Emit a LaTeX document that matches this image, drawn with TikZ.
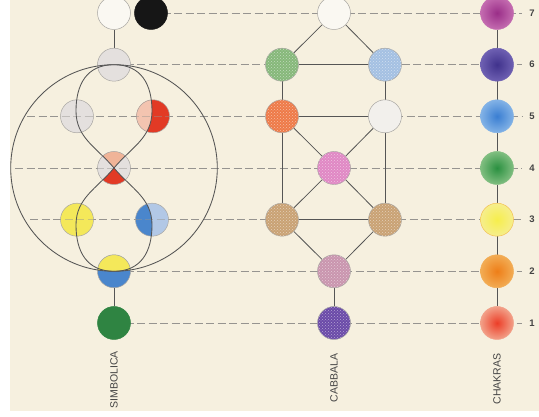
\documentclass[tikz,border=0pt]{standalone}
\usepackage{fontspec}
\setmainfont{Liberation Sans}
\usetikzlibrary{patterns}
\definecolor{cream}{HTML}{F6F0DF}
\definecolor{edgec}{HTML}{555555}
\definecolor{dashc}{HTML}{969490}
\definecolor{outc}{HTML}{A8A6A2}
\definecolor{txtc}{HTML}{444444}
% simbolica
\definecolor{swhite}{HTML}{FAF8F2}
\definecolor{sblack}{HTML}{161616}
\definecolor{sgrey}{HTML}{E4E0DE}
\definecolor{spale}{HTML}{F3C4B0}
\definecolor{sred}{HTML}{E23A25}
\definecolor{speach}{HTML}{F0B498}
\definecolor{syellow}{HTML}{F4E85A}
\definecolor{sblue}{HTML}{4A86CC}
\definecolor{slblue}{HTML}{B2C8E6}
\definecolor{sgreen}{HTML}{2F8442}
% cabbala
\definecolor{kwhite}{HTML}{FAF8F2}
\definecolor{kgreen}{HTML}{86B87A}
\definecolor{klblue}{HTML}{A4C0E2}
\definecolor{korange}{HTML}{EE7A48}
\definecolor{koff}{HTML}{F2F0EC}
\definecolor{kpink}{HTML}{E088C4}
\definecolor{ktan}{HTML}{C9A274}
\definecolor{kmauve}{HTML}{C995AE}
\definecolor{kpurple}{HTML}{6A4AA8}
% chakras
\definecolor{c7i}{HTML}{9A2E88}\definecolor{c7o}{HTML}{C46CB0}
\definecolor{c6i}{HTML}{40328C}\definecolor{c6o}{HTML}{6E60B2}
\definecolor{c5i}{HTML}{3A7ED2}\definecolor{c5o}{HTML}{82B2E6}
\definecolor{c4i}{HTML}{2A9040}\definecolor{c4o}{HTML}{80BE80}
\definecolor{c3i}{HTML}{F6EE4C}\definecolor{c3o}{HTML}{F6EE8C}
\definecolor{c2i}{HTML}{EE7E18}\definecolor{c2o}{HTML}{F2AC54}
\definecolor{c1i}{HTML}{EC3E28}\definecolor{c1o}{HTML}{F2A088}
\pgfdeclarelayer{bg}
\pgfdeclarelayer{lines}
\pgfdeclarelayer{top}
\pgfsetlayers{bg,lines,main,top}
\tikzset{
  ball/.style={circle, minimum size=33pt, inner sep=0pt, draw=outc, line width=0.5pt},
  sball/.style={ball, fill=#1},
  kball/.style={ball, fill=#1, postaction={pattern=crosshatch dots, pattern color=white!50!#1}},
  cball/.style 2 args={ball, draw=#2, shading=radial, inner color=#1, outer color=#2},
  edgeline/.style={draw=edgec, line width=0.8pt},
  dashline/.style={draw=dashc, line width=0.8pt, dash pattern=on 8pt off 3.5pt},
  curveline/.style={draw=edgec, line width=0.85pt},
  collabel/.style={rotate=90, font=\fontsize{10.5}{12}\selectfont, text=txtc, inner sep=0pt},
  numlabel/.style={font=\fontsize{9.5}{10}\selectfont\bfseries, text=txtc, inner sep=0pt}
}
\def\upperloop{(114,249) to[out=50,in=-90] (152,306) to[out=90,in=0,looseness=1.15] (114,352.3) to[out=180,in=90,looseness=1.15] (76,306) to[out=-90,in=130] (114,249)}
\def\lowerloop{(114,249) to[out=-50,in=90] (152,192) to[out=-90,in=0,looseness=1.15] (114,145.7) to[out=180,in=-90,looseness=1.15] (76,192) to[out=90,in=-130] (114,249)}
\begin{document}
\begin{tikzpicture}[x=1pt,y=1pt]
\useasboundingbox (0,0) rectangle (539,417);
\begin{pgfonlayer}{bg}
\fill[white] (0,0) rectangle (539,417);
\fill[cream] (10,6) rectangle (539,417);
\end{pgfonlayer}

% ---- SIMBOLICA ----
\node[sball=swhite] (s7a) at (114,404) {};
\node[sball=sblack, draw=sblack] (s7b) at (151,404) {};
\node[sball=sgrey] (s6) at (114,352.3) {};
\node[sball=sgrey] (s5L) at (77,300.7) {};
\node[circle, minimum size=33pt, inner sep=0pt, fill=sred] (s5R) at (153,300.7) {};
\node[circle, minimum size=33pt, inner sep=0pt, fill=sgrey] (s4) at (114,249) {};
\node[sball=syellow] (s3L) at (77,197.3) {};
\node[circle, minimum size=33pt, inner sep=0pt, fill=slblue] (s3R) at (152,197.3) {};
\node[circle, minimum size=33pt, inner sep=0pt, fill=sblue] (s2) at (114,145.7) {};
\node[sball=sgreen, draw=sgreen] (s1) at (114,94) {};
\begin{scope}
  \clip (s5R.center) circle (16.5);
  \fill[spale] \upperloop -- cycle;
\end{scope}
\begin{scope}
  \clip (s4.center) circle (16.5);
  \fill[speach] \upperloop -- cycle;
  \fill[sred] \lowerloop -- cycle;
\end{scope}
\begin{scope}
  \clip (s3R.center) circle (16.5);
  \fill[sblue] \lowerloop -- cycle;
\end{scope}
\begin{scope}
  \clip (s2.center) circle (16.5);
  \fill[syellow] (114,249) circle (103.3);
\end{scope}
\foreach \n in {s5R,s4,s3R,s2}{\draw[outc, line width=0.5pt] (\n.center) circle (16.5);}

% ---- CABBALA ----
\node[ball, fill=kwhite] (k7) at (334,404) {};
\node[kball=kgreen] (k6L) at (282,352.3) {};
\node[kball=klblue] (k6R) at (385,352.3) {};
\node[kball=korange] (k5L) at (282,300.7) {};
\node[ball, fill=koff] (k5R) at (385,300.7) {};
\node[kball=kpink] (k4) at (334,249) {};
\node[kball=ktan] (k3L) at (282,197.3) {};
\node[kball=ktan] (k3R) at (385,197.3) {};
\node[kball=kmauve] (k2) at (334,145.7) {};
\node[kball=kpurple] (k1) at (334,94) {};

% ---- CHAKRAS ----
\node[cball={c7i}{c7o}] (c7) at (497,404) {};
\node[cball={c6i}{c6o}] (c6) at (497,352.3) {};
\node[cball={c5i}{c5o}] (c5) at (497,300.7) {};
\node[cball={c4i}{c4o}] (c4) at (497,249) {};
\node[cball={c3i}{c3o}, draw=c2o!70!c3i] (c3) at (497,197.3) {};
\node[cball={c2i}{c2o}] (c2) at (497,145.7) {};
\node[cball={c1i}{c1o}] (c1) at (497,94) {};

% number labels
\foreach \k/\y in {7/404,6/352.3,5/300.7,4/249,3/197.3,2/145.7,1/94}{
  \node[numlabel] (n\k) at (532,\y) {\k};
  \coordinate (t\k) at (522,\y);
}
% column labels
\node[collabel] (lsim) at (114,37) {SIMBOLICA};
\node[collabel] (lcab) at (334,39) {CABBALA};
\node[collabel] (lcha) at (497,38) {CHAKRAS};

% free dash starts
\coordinate (d5) at (27,300.7);
\coordinate (d4) at (15,249);
\coordinate (d3) at (30,197.3);

\begin{pgfonlayer}{lines}
  \draw[dashline] (s7b.center) -- (t7);
  \draw[dashline] (s6.center) -- (t6);
  \draw[dashline] (d5) -- (t5);
  \draw[dashline] (d4) -- (t4);
  \draw[dashline] (d3) -- (t3);
  \draw[dashline] (s2.center) -- (t2);
  \draw[dashline] (s1.center) -- (t1);
  % simbolica verticals
  \draw[edgeline] (s7a) -- (s6);
  \draw[edgeline] (s2) -- (s1);
  % cabbala edges
  \draw[edgeline] (k7) -- (k6L);
  \draw[edgeline] (k7) -- (k6R);
  \draw[edgeline] (k6L) -- (k6R);
  \draw[edgeline] (k6L) -- (k5L);
  \draw[edgeline] (k6R) -- (k5R);
  \draw[edgeline] (k5L) -- (k5R);
  \draw[edgeline] (k5L) -- (k4);
  \draw[edgeline] (k5R) -- (k4);
  \draw[edgeline] (k5L) -- (k3L);
  \draw[edgeline] (k5R) -- (k3R);
  \draw[edgeline] (k4) -- (k3L);
  \draw[edgeline] (k4) -- (k3R);
  \draw[edgeline] (k3L) -- (k3R);
  \draw[edgeline] (k3L) -- (k2);
  \draw[edgeline] (k3R) -- (k2);
  \draw[edgeline] (k2) -- (k1);
  % chakra spine
  \draw[edgeline] (c7) -- (c6) -- (c5) -- (c4) -- (c3) -- (c2) -- (c1);
\end{pgfonlayer}

\begin{pgfonlayer}{top}
  % faint dashes over the simbolica balls
  \draw[dashline, opacity=0.45] (d5) -- (s5R.east);
  \draw[dashline, opacity=0.45] (d4) -- (s4.east);
  \draw[dashline, opacity=0.45] (d3) -- (s3R.east);
  % big circle and figure eight
  \draw[curveline] (s4.center) circle (103.3);
  \draw[curveline] \upperloop;
  \draw[curveline] \lowerloop;
\end{pgfonlayer}
\end{tikzpicture}
\end{document}
